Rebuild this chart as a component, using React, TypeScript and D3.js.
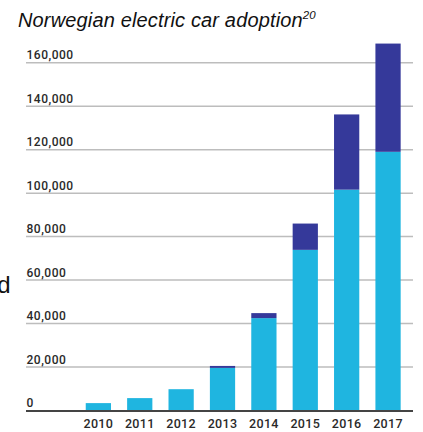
import React from 'react';
import * as d3 from 'd3';

const years = ['2010', '2011', '2012', '2013', '2014', '2015', '2016', '2017'];
const bevStock = [3400, 5700, 9800, 19600, 42500, 73900, 101600, 119000];
const phevStock = [0, 0, 0, 900, 2300, 12100, 34600, 49800];
const yTicks = [0, 20000, 40000, 60000, 80000, 100000, 120000, 140000, 160000];

const W = 423;
const H = 432;
const LIGHT = '#1fb5e0';
const DARK = '#35399a';

const x = d3.scaleBand<string>().domain(years).range([69.6, 416.8]).paddingInner(0.39).paddingOuter(0.39);
const y = d3.scaleLinear().domain([0, 160000]).range([410.5, 62.7]);
const fmt = d3.format(',');

export default function App() {
  const rows = years.map((yr, i) => ({ yr, bev: bevStock[i], phev: phevStock[i] }));
  return (
    <svg width={W} height={H} style={{ position: 'absolute', left: 0, top: 0, background: '#fff' }}>
      <text x={18} y={27} fontFamily="'Liberation Sans', Arial, sans-serif" fontStyle="italic" fontSize={20} letterSpacing={0.15} fill="#111">
        Norwegian electric car adoption
        <tspan fontSize={11.5} dy={-8} letterSpacing={0}>20</tspan>
      </text>
      {/* fragment of neighbouring page text, cut off at the left edge in the source */}
      <text x={-2.8} y={293} fontFamily="'Liberation Sans', Arial, sans-serif" fontSize={24} fill="#111">d</text>

      {yTicks.map(t => (
        <g key={t}>
          {t > 0 && <line x1={26} x2={413} y1={y(t)} y2={y(t)} stroke="#bdbdbd" strokeWidth={1.5} />}
          <text x={26.5} y={y(t) - 3.5} fontFamily="Roboto, sans-serif" fontWeight={500} fontSize={12} letterSpacing={0.5} fill="#2a2a2a">
            {fmt(t)}
          </text>
        </g>
      ))}

      {rows.map(d => (
        <g key={d.yr}>
          <rect x={x(d.yr)} width={x.bandwidth()} y={y(d.bev)} height={y(0) - y(d.bev)} fill={LIGHT} />
          {d.phev > 0 && (
            <rect x={x(d.yr)} width={x.bandwidth()} y={y(d.bev + d.phev)} height={y(d.bev) - y(d.bev + d.phev)} fill={DARK} />
          )}
          <text x={(x(d.yr) || 0) + x.bandwidth() / 2} y={428} textAnchor="middle" fontFamily="Roboto, sans-serif" fontWeight={500} fontSize={12.5} letterSpacing={0.3} fill="#2a2a2a">
            {d.yr}
          </text>
        </g>
      ))}

      <line x1={26} x2={413} y1={y(0) + 0.5} y2={y(0) + 0.5} stroke="#444" strokeWidth={2} />
    </svg>
  );
}
